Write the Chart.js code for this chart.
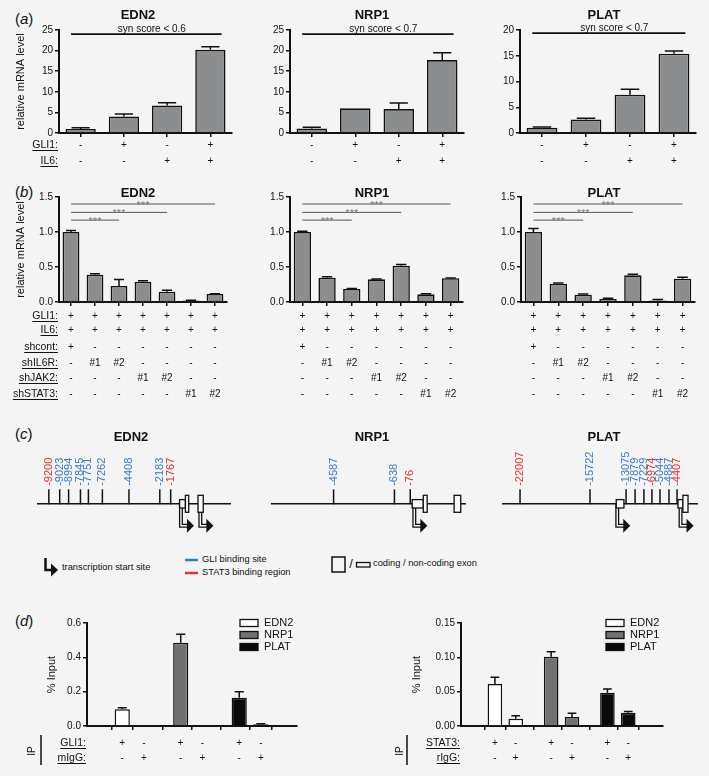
<!DOCTYPE html>
<html>
<head>
<meta charset="utf-8">
<title>GLI1 / IL6-STAT3 target genes</title>
<script src="https://cdn.jsdelivr.net/npm/chart.js@4.4.1/dist/chart.umd.min.js"></script>
<style>
  html, body { margin: 0; padding: 0; background: #f4f4f4; }
  #page { position: relative; width: 709px; height: 776px; overflow: hidden; background: #f4f4f4;
          font-family: "Liberation Sans", Arial, Helvetica, sans-serif; color: #111; }
  #page canvas { position: absolute; }
  .panel { position: absolute; font-size: 15px; line-height: 16px; }
</style>
</head>
<body>
<div id="page">
  <span class="panel" style="left:15px;top:11px">(<i>a</i>)</span>
  <span class="panel" style="left:15px;top:184px">(<i>b</i>)</span>
  <span class="panel" style="left:15px;top:426px">(<i>c</i>)</span>
  <span class="panel" style="left:15px;top:613px">(<i>d</i>)</span>

  <!-- legend of panel (c) -->
  <svg style="position:absolute;left:0;top:550px" width="709" height="32"
       font-family="Liberation Sans, Arial, sans-serif" font-size="9.3" fill="#111">
    <path d="M45.5 8 V20 H51" fill="none" stroke="#111" stroke-width="2.5"/>
    <path d="M51 13.5 L58 20 L51 26.5 Z" fill="#111"/>
    <text x="62" y="18" dominant-baseline="middle">transcription start site</text>
    <line x1="185" y1="10" x2="198" y2="10" stroke="#3b7ac6" stroke-width="2.5"/>
    <text x="202" y="10" dominant-baseline="middle">GLI binding site</text>
    <line x1="185" y1="23" x2="198" y2="23" stroke="#e2322b" stroke-width="2.5"/>
    <text x="202" y="23" dominant-baseline="middle">STAT3 binding region</text>
    <rect x="332" y="7" width="13" height="15" fill="none" stroke="#111" stroke-width="1.5"/>
    <text x="351" y="15" dominant-baseline="middle" text-anchor="middle" font-size="13">/</text>
    <rect x="356.5" y="12.5" width="13.5" height="4.5" fill="none" stroke="#111" stroke-width="1.3"/>
    <text x="373" y="14" dominant-baseline="middle">coding / non-coding exon</text>
  </svg>
</div>
<script>
const FONT = '"Liberation Sans", Arial, Helvetica, sans-serif';
const BLUE = '#3b7ac6';
const RED = '#e2322b';
const BAR_GREY = '#8c8d8f';

// ---------- (a) GLI1 / IL6 synergy, relative mRNA ----------
const aGli1 = ['-', '+', '-', '+'];
const aIl6 = ['-', '-', '+', '+'];
const aEdn2 = [1.0, 4.0, 6.7, 20.2];
const aEdn2Err = [0.25, 0.6, 0.65, 0.75];
const aNrp1 = [1.1, 6.0, 5.8, 17.7];
const aNrp1Err = [0.3, 0, 1.5, 1.8];
const aPlat = [1.0, 2.6, 7.45, 15.4];
const aPlatErr = [0.15, 0.25, 1.05, 0.5];
const aSynText = ['syn score < 0.6', 'syn score < 0.7', 'syn score < 0.7'];
const aSynLevel = [24, 24, 19.4];

// ---------- (b) knockdown of IL6R / JAK2 / STAT3 ----------
const bGli1 = ['+', '+', '+', '+', '+', '+', '+'];
const bIl6 = ['+', '+', '+', '+', '+', '+', '+'];
const bShcont = ['+', '-', '-', '-', '-', '-', '-'];
const bShIl6r = ['-', '#1', '#2', '-', '-', '-', '-'];
const bShJak2 = ['-', '-', '-', '#1', '#2', '-', '-'];
const bShStat3 = ['-', '-', '-', '-', '-', '#1', '#2'];
const bEdn2 = [1.0, 0.39, 0.23, 0.29, 0.147, 0.02, 0.114];
const bEdn2Err = [0.02, 0.015, 0.09, 0.012, 0.02, 0.006, 0.004];
const bNrp1 = [1.0, 0.347, 0.186, 0.324, 0.519, 0.11, 0.339];
const bNrp1Err = [0.01, 0.012, 0.008, 0.004, 0.016, 0.008, 0.004];
const bPlat = [1.0, 0.261, 0.105, 0.043, 0.381, 0.02, 0.333];
const bPlatErr = [0.05, 0.01, 0.008, 0.012, 0.015, 0.015, 0.02];
const bSigTo = [2, 4, 6];
const bSigLevel = [1.17, 1.28, 1.40];

// ---------- (c) promoter maps (schematic position 0-100) ----------
const cEdn2Sites = ['-9200', '-9023', '-8994', '-7845', '-7751', '-7262', '-4408', '-2183', '-1767'];
const cEdn2Pos = [6.1, 11.7, 16.3, 22.4, 26.5, 33.7, 47.4, 63.3, 68.9];
const cEdn2Type = ['STAT3', 'GLI', 'GLI', 'GLI', 'GLI', 'GLI', 'GLI', 'GLI', 'STAT3'];
const cEdn2Exons = [[73.5, 76.5, 'non-coding'], [76.5, 78.2, 'coding'], [83.0, 85.7, 'coding']];
const cEdn2Tss = [74.2, 84.2];

const cNrp1Sites = ['-4587', '-638', '-76'];
const cNrp1Pos = [32.1, 63.3, 71.4];
const cNrp1Type = ['GLI', 'GLI', 'STAT3'];
const cNrp1Exons = [[72.4, 78.1, 'non-coding'], [78.1, 80.1, 'coding'], [93.9, 97.3, 'coding']];
const cNrp1Tss = [73.5];

const cPlatSites = ['-22007', '-15722', '-13075', '-7879', '-7229', '-6974', '-5044', '-4887', '-4407'];
const cPlatPos = [9.2, 44.9, 63.3, 67.9, 72.4, 76.5, 80.6, 85.2, 89.3];
const cPlatType = ['STAT3', 'GLI', 'GLI', 'GLI', 'GLI', 'STAT3', 'GLI', 'GLI', 'STAT3'];
const cPlatExons = [[58.3, 62.2, 'non-coding'], [89.8, 92.3, 'non-coding'], [92.3, 94.9, 'coding']];
const cPlatTss = [58.8, 91.1];

// ---------- (d) ChIP, % input ----------
const dGenes = ['EDN2', 'NRP1', 'PLAT'];
const dRowGli1 = ['+', '-', '+', '-', '+', '-'];
const dRowMigg = ['-', '+', '-', '+', '-', '+'];
const dRowStat3 = ['+', '-', '+', '-', '+', '-'];
const dRowRigg = ['-', '+', '-', '+', '-', '+'];
const dGliEdn2 = [0.097, 0.004];
const dGliEdn2Err = [0.01, 0];
const dGliNrp1 = [0.485, 0.004];
const dGliNrp1Err = [0.05, 0];
const dGliPlat = [0.165, 0.01];
const dGliPlatErr = [0.035, 0.003];
const dStatEdn2 = [0.061, 0.0107];
const dStatEdn2Err = [0.010, 0.0043];
const dStatNrp1 = [0.101, 0.013];
const dStatNrp1Err = [0.007, 0.0055];
const dStatPlat = [0.0485, 0.0194];
const dStatPlatErr = [0.0054, 0.0016];

Chart.defaults.font.family = FONT;
Chart.defaults.color = '#111';
Chart.defaults.animation = false;
Chart.defaults.events = [];
Chart.defaults.plugins.legend.display = false;
Chart.defaults.plugins.tooltip.enabled = false;

const page = document.getElementById('page');
const X_AXIS_H = 6;

function makeCanvas(box) {
  const c = document.createElement('canvas');
  c.width = box.w;
  c.height = box.h;
  c.style.left = box.x + 'px';
  c.style.top = box.y + 'px';
  page.appendChild(c);
  return c;
}

// error bars, condition rows, titles
function figPlugin(spec) {
  const X = v => v - spec.box.x;
  const Y = v => v - spec.box.y;
  return {
    id: 'fig',
    afterDatasetsDraw(chart) {
      const ctx = chart.ctx, ys = chart.scales.y;
      ctx.save();
      ctx.strokeStyle = '#111';
      ctx.lineWidth = 1.5;
      chart.data.datasets.forEach((ds, di) => {
        const errs = spec.err[di];
        chart.getDatasetMeta(di).data.forEach((bar, i) => {
          if (!errs[i]) return;
          const raw = ds.data[i];
          const v = typeof raw === 'object' ? raw.y : raw;
          const yTop = ys.getPixelForValue(v + errs[i]);
          const half = bar.width * 0.3;
          ctx.beginPath();
          ctx.moveTo(bar.x, bar.y);
          ctx.lineTo(bar.x, yTop);
          ctx.moveTo(bar.x - half, yTop);
          ctx.lineTo(bar.x + half, yTop);
          ctx.stroke();
        });
      });
      ctx.restore();
    },
    afterDraw(chart) {
      const ctx = chart.ctx, xs = chart.scales.x, ca = chart.chartArea;
      const colX = i => xs.getPixelForValue(spec.colPos ? spec.colPos[i] : i);
      ctx.save();
      ctx.fillStyle = '#111';
      if (spec.title) {
        ctx.font = 'bold 13px ' + FONT;
        ctx.textAlign = 'center';
        ctx.textBaseline = 'middle';
        ctx.fillText(spec.title, X(spec.titleX), Y(spec.titleY));
      }
      if (spec.yTitle) {
        ctx.save();
        ctx.translate(X(spec.yTitleX), (ca.top + ca.bottom) / 2);
        ctx.rotate(-Math.PI / 2);
        ctx.font = '11px ' + FONT;
        ctx.textAlign = 'center';
        ctx.textBaseline = 'middle';
        ctx.fillText(spec.yTitle, 0, 0);
        ctx.restore();
      }
      spec.rows.forEach(row => {
        const y = Y(row.y);
        ctx.font = '10px ' + FONT;
        ctx.textAlign = 'center';
        ctx.textBaseline = 'middle';
        row.vals.forEach((s, i) => ctx.fillText(s, colX(i), y));
        if (spec.rowNameX !== undefined) {
          ctx.font = '10.5px ' + FONT;
          ctx.textAlign = 'right';
          const x = X(spec.rowNameX);
          ctx.fillText(row.name, x, y);
          const w = ctx.measureText(row.name).width;
          ctx.fillRect(x - w, y + 5, w, 1);
        }
      });
      if (spec.extra) spec.extra(chart, ctx, colX, X, Y);
      ctx.restore();
    }
  };
}

function yScale(spec) {
  return {
    min: 0,
    max: spec.yMax,
    afterFit: s => { s.width = spec.plot.l - spec.box.x; },
    ticks: { stepSize: spec.yStep, padding: 2, font: { size: 10 }, color: '#111',
             callback: v => v.toFixed(spec.dec) },
    grid: { drawOnChartArea: false, drawTicks: true, tickLength: 4, color: '#111', lineWidth: 1.5 },
    border: { display: true, color: '#111', width: 2 }
  };
}

function padding(spec) {
  const { box, plot } = spec;
  return { left: 0, top: plot.t - box.y, right: box.x + box.w - plot.r,
           bottom: box.y + box.h - plot.b - X_AXIS_H };
}

function barChart(spec) {
  return new Chart(makeCanvas(spec.box), {
    type: 'bar',
    data: {
      labels: spec.values.map((v, i) => String(i + 1)),
      datasets: [{
        data: spec.values,
        backgroundColor: BAR_GREY,
        borderColor: '#111',
        borderWidth: 1.6,
        barPercentage: 0.7,
        categoryPercentage: 1.0
      }]
    },
    options: {
      responsive: false,
      layout: { padding: padding(spec) },
      scales: {
        x: {
          offset: true,
          afterFit: s => { s.height = X_AXIS_H; },
          ticks: { display: false },
          grid: { offset: false, drawOnChartArea: false, drawTicks: true, tickLength: 4, color: '#111', lineWidth: 1.5 },
          border: { display: true, color: '#111', width: 2 }
        },
        y: yScale(spec)
      }
    },
    plugins: [figPlugin(Object.assign({ err: [spec.errors] }, spec))]
  });
}

function synLine(level, text) {
  return (chart, ctx) => {
    const xs = chart.scales.x, ys = chart.scales.y;
    const y = ys.getPixelForValue(level);
    const x1 = xs.getPixelForValue(-0.22), x2 = xs.getPixelForValue(3.26);
    ctx.strokeStyle = '#111';
    ctx.lineWidth = 1.8;
    ctx.beginPath();
    ctx.moveTo(x1, y);
    ctx.lineTo(x2, y);
    ctx.stroke();
    ctx.font = '10px ' + FONT;
    ctx.textAlign = 'center';
    ctx.textBaseline = 'alphabetic';
    ctx.fillText(text, (x1 + x2) / 2 + 5.5, y - 2.5);
  };
}

function sigLines(chart, ctx, colX) {
  const ys = chart.scales.y;
  bSigTo.forEach((to, k) => {
    const y = ys.getPixelForValue(bSigLevel[k]);
    const x1 = colX(0), x2 = colX(to);
    ctx.strokeStyle = '#555';
    ctx.lineWidth = 1;
    ctx.beginPath();
    ctx.moveTo(x1, y);
    ctx.lineTo(x2, y);
    ctx.stroke();
    ctx.fillStyle = '#777';
    ctx.font = '11px ' + FONT;
    ctx.textAlign = 'center';
    ctx.textBaseline = 'alphabetic';
    ctx.fillText('***', (x1 + x2) / 2, y + 4.6);
  });
}

// ---- panel (a)
const aRows = [
  { name: 'GLI1:', vals: aGli1, y: 145 },
  { name: 'IL6:', vals: aIl6, y: 161 }
];
barChart({ box: { x: 0, y: 0, w: 240, h: 172 }, plot: { l: 59, t: 30, r: 232, b: 133 },
  values: aEdn2, errors: aEdn2Err, yMax: 25, yStep: 5, dec: 0,
  title: 'EDN2', titleX: 138, titleY: 15, yTitle: 'relative mRNA level', yTitleX: 21,
  rows: aRows, rowNameX: 58, extra: synLine(aSynLevel[0], aSynText[0]) });
barChart({ box: { x: 240, y: 0, w: 235, h: 172 }, plot: { l: 290, t: 30, r: 464, b: 133 },
  values: aNrp1, errors: aNrp1Err, yMax: 25, yStep: 5, dec: 0,
  title: 'NRP1', titleX: 372, titleY: 15, rows: aRows, extra: synLine(aSynLevel[1], aSynText[1]) });
barChart({ box: { x: 475, y: 0, w: 234, h: 172 }, plot: { l: 520, t: 30, r: 696, b: 133 },
  values: aPlat, errors: aPlatErr, yMax: 20, yStep: 5, dec: 0,
  title: 'PLAT', titleX: 604, titleY: 15, rows: aRows, extra: synLine(aSynLevel[2], aSynText[2]) });

// ---- panel (b)
const bRows = [
  { name: 'GLI1:', vals: bGli1, y: 316 },
  { name: 'IL6:', vals: bIl6, y: 330 },
  { name: 'shcont:', vals: bShcont, y: 347 },
  { name: 'shIL6R:', vals: bShIl6r, y: 363 },
  { name: 'shJAK2:', vals: bShJak2, y: 378 },
  { name: 'shSTAT3:', vals: bShStat3, y: 394 }
];
barChart({ box: { x: 0, y: 172, w: 240, h: 230 }, plot: { l: 59, t: 197, r: 227, b: 302 },
  values: bEdn2, errors: bEdn2Err, yMax: 1.5, yStep: 0.5, dec: 1,
  title: 'EDN2', titleX: 138, titleY: 193, yTitle: 'relative mRNA level', yTitleX: 21,
  rows: bRows, rowNameX: 58, extra: sigLines });
barChart({ box: { x: 240, y: 172, w: 235, h: 230 }, plot: { l: 290, t: 197, r: 463, b: 302 },
  values: bNrp1, errors: bNrp1Err, yMax: 1.5, yStep: 0.5, dec: 1,
  title: 'NRP1', titleX: 372, titleY: 193, rows: bRows, extra: sigLines });
barChart({ box: { x: 475, y: 172, w: 234, h: 230 }, plot: { l: 521, t: 197, r: 695, b: 302 },
  values: bPlat, errors: bPlatErr, yMax: 1.5, yStep: 0.5, dec: 1,
  title: 'PLAT', titleX: 604, titleY: 193, rows: bRows, extra: sigLines });

// ---- panel (c)
const TICK_H = 15;
function genePlugin(spec) {
  const X = v => v - spec.box.x;
  const Y = v => v - spec.box.y;
  return {
    id: 'gene',
    afterDatasetsDraw(chart) {
      const ctx = chart.ctx, xs = chart.scales.x, ys = chart.scales.y;
      const y0 = ys.getPixelForValue(0);
      ctx.save();
      // transcription start sites
      spec.tss.forEach(p => {
        const x = xs.getPixelForValue(p);
        const yb = y0 + 22;
        ctx.lineJoin = 'miter';
        ctx.beginPath();
        ctx.moveTo(x, y0);
        ctx.lineTo(x, yb);
        ctx.lineTo(x + 7, yb);
        ctx.strokeStyle = '#111';
        ctx.lineWidth = 4;
        ctx.stroke();
        ctx.strokeStyle = '#f4f4f4';
        ctx.lineWidth = 1.4;
        ctx.stroke();
        ctx.fillStyle = '#111';
        ctx.beginPath();
        ctx.moveTo(x + 6, yb - 7);
        ctx.lineTo(x + 13, yb);
        ctx.lineTo(x + 6, yb + 7);
        ctx.closePath();
        ctx.fill();
      });
      // exons
      spec.exons.forEach(([a, b, kind]) => {
        const h = kind === 'coding' ? 8.5 : 4.2;
        const x1 = xs.getPixelForValue(a), x2 = xs.getPixelForValue(b);
        ctx.fillStyle = '#f8f8f8';
        ctx.strokeStyle = '#111';
        ctx.lineWidth = 1.3;
        ctx.fillRect(x1, y0 - h, x2 - x1, 2 * h);
        ctx.strokeRect(x1, y0 - h, x2 - x1, 2 * h);
      });
      // site labels
      const top = ys.getPixelForValue(TICK_H);
      chart.getDatasetMeta(1).data.forEach((pt, i) => {
        ctx.save();
        ctx.translate(pt.x, top - spec.gap);
        ctx.rotate(-Math.PI / 2);
        ctx.fillStyle = spec.types[i] === 'GLI' ? BLUE : RED;
        ctx.font = '11px ' + FONT;
        ctx.textAlign = 'left';
        ctx.textBaseline = 'middle';
        ctx.fillText(spec.sites[i], 0, 0);
        ctx.restore();
      });
      ctx.fillStyle = '#111';
      ctx.font = 'bold 13px ' + FONT;
      ctx.textAlign = 'center';
      ctx.textBaseline = 'middle';
      ctx.fillText(spec.title, X(spec.titleX), Y(437));
      ctx.restore();
    }
  };
}

function geneChart(spec) {
  const { box, line } = spec;
  return new Chart(makeCanvas(box), {
    type: 'scatter',
    data: {
      datasets: [
        { type: 'line', data: [{ x: 0, y: 0 }, { x: 100, y: 0 }], borderColor: '#111', borderWidth: 1.5, pointRadius: 0 },
        { data: spec.pos.map(p => ({ x: p, y: TICK_H / 2 })), pointStyle: 'line', pointRotation: 90,
          pointRadius: TICK_H / 2, pointBorderWidth: 1.5, pointBorderColor: '#111', pointBackgroundColor: '#111' }
      ]
    },
    options: {
      responsive: false,
      layout: { padding: { left: line.l - box.x, right: box.x + box.w - line.r, top: 448 - box.y, bottom: box.y + box.h - 548 } },
      scales: {
        x: { type: 'linear', display: false, min: 0, max: 100 },
        y: { type: 'linear', display: false, min: -40, max: 60 }
      }
    },
    plugins: [genePlugin(spec)]
  });
}

geneChart({ box: { x: 0, y: 415, w: 240, h: 135 }, line: { l: 37, r: 233 }, title: 'EDN2', titleX: 131,
  sites: cEdn2Sites, pos: cEdn2Pos, types: cEdn2Type, exons: cEdn2Exons, tss: cEdn2Tss, gap: 4 });
geneChart({ box: { x: 240, y: 415, w: 235, h: 135 }, line: { l: 271, r: 467 }, title: 'NRP1', titleX: 372,
  sites: cNrp1Sites, pos: cNrp1Pos, types: cNrp1Type, exons: cNrp1Exons, tss: cNrp1Tss, gap: 4 });
geneChart({ box: { x: 475, y: 415, w: 234, h: 135 }, line: { l: 502, r: 698 }, title: 'PLAT', titleX: 604,
  sites: cPlatSites, pos: cPlatPos, types: cPlatType, exons: cPlatExons, tss: cPlatTss, gap: 4 });

// ---- panel (d)
const GROUP_STEP = 2.7;
const dColPos = [0, 1, GROUP_STEP, GROUP_STEP + 1, 2 * GROUP_STEP, 2 * GROUP_STEP + 1];
const dFill = ['#ffffff', '#6f7173', '#0a0a0a'];

function chipLegendAndIp(ipX, barX) {
  return (chart, ctx, colX, X, Y) => {
    const ca = chart.chartArea;
    chart.data.datasets.forEach((ds, k) => {
      const y = ca.top + k * 12;
      ctx.fillStyle = ds.backgroundColor;
      ctx.strokeStyle = '#111';
      ctx.lineWidth = 1.3;
      ctx.fillRect(ca.right - 57, y - 3.5, 18, 7);
      ctx.strokeRect(ca.right - 57, y - 3.5, 18, 7);
      ctx.fillStyle = '#111';
      ctx.font = '11px ' + FONT;
      ctx.textAlign = 'left';
      ctx.textBaseline = 'middle';
      ctx.fillText(ds.label, ca.right - 33, y);
    });
    ctx.save();
    ctx.translate(X(ipX), Y(751));
    ctx.rotate(-Math.PI / 2);
    ctx.font = '10px ' + FONT;
    ctx.textAlign = 'center';
    ctx.textBaseline = 'middle';
    ctx.fillText('IP', 0, 0);
    ctx.restore();
    ctx.fillRect(X(barX) - 0.75, Y(735), 1.5, 30);
  };
}

function chipChart(spec) {
  return new Chart(makeCanvas(spec.box), {
    type: 'bar',
    data: {
      datasets: dGenes.map((g, k) => ({
        label: g,
        data: spec.values[k].map((v, j) => ({ x: dColPos[2 * k + j], y: v })),
        backgroundColor: dFill[k],
        borderColor: '#111',
        borderWidth: 1.5,
        barPercentage: 0.7,
        categoryPercentage: 1.0,
        grouped: false
      }))
    },
    options: {
      responsive: false,
      layout: { padding: padding(spec) },
      scales: {
        x: {
          type: 'linear',
          min: -0.82,
          max: 2 * GROUP_STEP + 1 + 0.86,
          afterBuildTicks: s => { s.ticks = dColPos.map(v => ({ value: v })); },
          afterFit: s => { s.height = X_AXIS_H; },
          ticks: { display: false },
          grid: { drawOnChartArea: false, drawTicks: true, tickLength: 4, color: '#111', lineWidth: 1.5 },
          border: { display: true, color: '#111', width: 2 }
        },
        y: yScale(spec)
      }
    },
    plugins: [figPlugin(spec)]
  });
}

chipChart({ box: { x: 0, y: 600, w: 350, h: 176 }, plot: { l: 87, t: 623, r: 297, b: 726 },
  values: [dGliEdn2, dGliNrp1, dGliPlat], err: [dGliEdn2Err, dGliNrp1Err, dGliPlatErr],
  yMax: 0.6, yStep: 0.2, dec: 1, yTitle: '% Input', yTitleX: 52, colPos: dColPos,
  rows: [{ name: 'GLI1:', vals: dRowGli1, y: 743 }, { name: 'mIgG:', vals: dRowMigg, y: 758 }],
  rowNameX: 86, extra: chipLegendAndIp(32, 41) });
chipChart({ box: { x: 350, y: 600, w: 359, h: 176 }, plot: { l: 461, t: 623, r: 663, b: 726 },
  values: [dStatEdn2, dStatNrp1, dStatPlat], err: [dStatEdn2Err, dStatNrp1Err, dStatPlatErr],
  yMax: 0.15, yStep: 0.05, dec: 2, yTitle: '% Input', yTitleX: 417, colPos: dColPos,
  rows: [{ name: 'STAT3:', vals: dRowStat3, y: 743 }, { name: 'rIgG:', vals: dRowRigg, y: 758 }],
  rowNameX: 460, extra: chipLegendAndIp(400, 407) });
</script>
</body>
</html>
